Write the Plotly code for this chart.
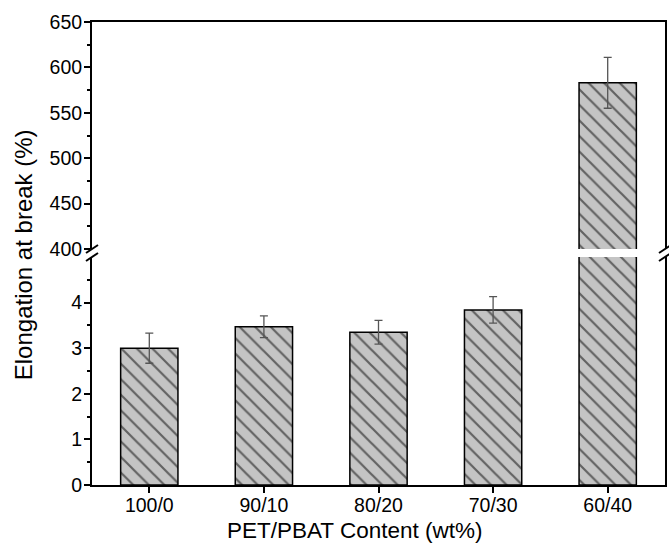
import plotly.graph_objects as go

# ---- data ----
categories = ["100/0", "90/10", "80/20", "70/30", "60/40"]
elongation = [3.00, 3.47, 3.35, 3.84, 583.0]
elong_err = [0.33, 0.24, 0.26, 0.29, 28.0]

low_ticks = [0, 1, 2, 3, 4]
low_minor = [0.5, 1.5, 2.5, 3.5, 4.5]
high_ticks = [400, 450, 500, 550, 600, 650]
high_minor = [425, 475, 525, 575, 625]

# ---- layout geometry ----
W, H = 669, 550
ML, MR, MT, MB = 92, 2, 22, 65
PH = H - MT - MB
low_dom = [0, 228 / PH]
high_dom = [236 / PH, 1]

FONT = "Liberation Sans, Arial, sans-serif"
BAR_FILL = "#c4c4c4"

def bar_trace(xa, ya):
    return go.Bar(
        x=categories, y=elongation, xaxis=xa, yaxis=ya, width=0.5,
        marker=dict(color=BAR_FILL, line=dict(color="black", width=1.5),
                    pattern=dict(shape="\\", size=11, solidity=0.2,
                                 fgcolor="black", bgcolor=BAR_FILL, fillmode="overlay")),
        error_y=dict(type="data", array=elong_err, visible=True,
                     color="#555555", thickness=1.3, width=4),
        showlegend=False, hoverinfo="x+y",
    )

fig = go.Figure()
fig.add_trace(bar_trace("x", "y"))
fig.add_trace(bar_trace("x2", "y2"))

axis_common = dict(showline=True, linecolor="black", linewidth=2, showgrid=False,
                   zeroline=False, tickfont=dict(family=FONT, size=19.5, color="black"))

fig.update_layout(
    width=W, height=H,
    margin=dict(l=ML, r=MR, t=MT, b=MB),
    plot_bgcolor="white", paper_bgcolor="white",
    bargap=0.5,
    xaxis=dict(**axis_common, type="category", categoryorder="array",
               categoryarray=categories, range=[-0.5, 4.5], anchor="y",
               ticks="outside", ticklen=6, tickwidth=2, tickcolor="black",
               ticklabelstandoff=-4),
    xaxis2=dict(showline=True, linecolor="black", linewidth=2, showgrid=False,
                zeroline=False, matches="x", anchor="y2", side="top",
                showticklabels=False, ticks=""),
    yaxis=dict(**axis_common, domain=low_dom, range=[0, 5], anchor="x", mirror=True,
               tickvals=low_ticks, ticks="outside", ticklen=6, tickwidth=2, tickcolor="black",
               ticklabelstandoff=-2,
               minor=dict(tickvals=low_minor, ticks="outside", ticklen=3, tickwidth=1.5,
                          tickcolor="black")),
    yaxis2=dict(**axis_common, domain=high_dom, range=[400, 650], anchor="x2", mirror=True,
                tickvals=high_ticks, ticks="outside", ticklen=6, tickwidth=2, tickcolor="black",
                ticklabelstandoff=-2,
                minor=dict(tickvals=high_minor, ticks="outside", ticklen=3, tickwidth=1.5,
                           tickcolor="black")),
)

# axis titles
PW = W - ML - MR
fig.add_annotation(text="PET/PBAT Content (wt%)", xref="paper", yref="paper",
                   x=(356 - ML) / PW, y=-(530 - (H - MB)) / PH,
                   xanchor="center", yanchor="middle", showarrow=False,
                   font=dict(family=FONT, size=22.5, color="black"))
fig.add_annotation(text="Elongation at break (%)", xref="paper", yref="paper",
                   x=(24 - ML) / PW, y=((H - MB) - 255) / PH, textangle=-90,
                   xanchor="center", yanchor="middle", showarrow=False,
                   font=dict(family=FONT, size=24, color="black"))

# axis-break slashes on both sides
for xa in (0, 1):
    for ya in (low_dom[1], high_dom[0]):
        fig.add_shape(type="line", xref="paper", yref="paper",
                      xsizemode="pixel", ysizemode="pixel",
                      xanchor=xa, yanchor=ya, x0=-6, x1=6, y0=-4, y1=4,
                      line=dict(color="black", width=2))

fig.write_html("out.html")
